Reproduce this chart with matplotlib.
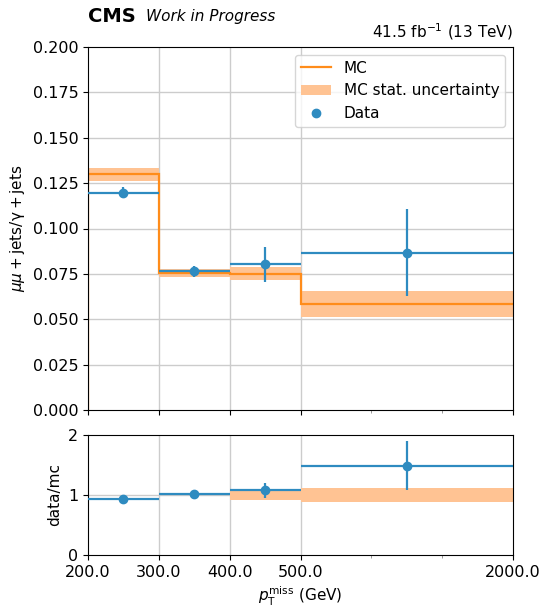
import numpy as np
import matplotlib
matplotlib.use("Agg")
import matplotlib.pyplot as plt
from matplotlib.patches import Patch
from matplotlib.lines import Line2D

# bin edges in display index units and their labels
edges = [0, 1, 2, 3, 6]
major_pos = [0, 1, 2, 3, 6]
major_labels = ["200.0", "300.0", "400.0", "500.0", "2000.0"]
minor_pos = [4, 5]

mc = [0.1298, 0.0755, 0.0752, 0.0584]
mc_err = [0.0035, 0.0020, 0.0037, 0.0071]
data = [0.1197, 0.0765, 0.0803, 0.0867]
data_err = [0.0030, 0.0030, 0.0097, 0.0240]

ratio = [0.933, 1.02, 1.077, 1.49]
ratio_err = [0.02, 0.02, 0.13, 0.41]
ratio_band = [0.004, 0.004, 0.075, 0.12]

C_MC = "#ff8c1a"
C_BAND = "#ffc393"
C_DATA = "#2e8bc0"

fig = plt.figure(figsize=(5.43, 6.07), dpi=100)
ax = fig.add_axes([88/543, 1-410/607, (513-88)/543, (410-47)/607])
axr = fig.add_axes([88/543, 1-555/607, (513-88)/543, (555-435)/607])

edges_a = np.array(edges, dtype=float)
centers = (edges_a[:-1] + edges_a[1:]) / 2
halfw = (edges_a[1:] - edges_a[:-1]) / 2
mc_a = np.array(mc); mce = np.array(mc_err)

# main panel
for y in np.arange(0.025, 0.2, 0.025):
    ax.axhline(y, color="#cccccc", lw=1, zorder=0)
for x in [1, 2, 3]:
    ax.axvline(x, color="#cccccc", lw=1, zorder=0)
ax.stairs(mc_a + mce, edges_a, baseline=mc_a - mce, fill=True, color=C_BAND, lw=0, zorder=1)
ax.stairs(mc_a, edges_a, baseline=None, color=C_MC, lw=1.6, zorder=2)
ax.vlines(edges_a[0], 0, mc_a[0], color=C_MC, lw=1.6, zorder=2)
ax.errorbar(centers, data, xerr=halfw, yerr=data_err, fmt="o", color=C_DATA,
            ms=6, lw=1.6, zorder=3)
ax.set_xlim(0, 6)
ax.set_ylim(0, 0.2)
ax.set_yticks(np.arange(0, 0.2001, 0.025))
ax.set_yticklabels([f"{v:.3f}" for v in np.arange(0, 0.2001, 0.025)])
ax.set_xticks(major_pos)
ax.set_xticks(minor_pos, minor=True)
ax.tick_params(labelbottom=False, labelsize=11.5)
ax.tick_params(axis="x", which="minor", length=2.5, color="#888888")
ax.set_ylabel(r"$\mu\mu + \rm{jets}/\gamma + \rm{jets}$", fontsize=11)

handles = [Line2D([], [], color=C_MC, lw=1.6),
           Patch(facecolor=C_BAND, edgecolor="none"),
           Line2D([], [], color=C_DATA, marker="o", ls="none", ms=6)]
ax.legend(handles, ["MC", "MC stat. uncertainty", "Data"], loc="upper right",
          fontsize=11, framealpha=0.8, edgecolor="#cccccc")

fig.text(88/543, 1-17/607, "CMS", fontsize=14, fontweight="bold", va="center", ha="left")
fig.text(146/543, 1-17/607, "Work in Progress", fontsize=11, style="italic", va="center", ha="left")
fig.text(513/543, 1-32/607, r"41.5 fb$^{-1}$ (13 TeV)", fontsize=11, va="center", ha="right")

# ratio panel
rb = np.array(ratio_band)
axr.axhline(1, color="#cccccc", lw=1, zorder=0)
for x in [1, 2, 3]:
    axr.axvline(x, color="#cccccc", lw=1, zorder=0)
axr.stairs(1 + rb, edges_a, baseline=1 - rb, fill=True, color=C_BAND, lw=0, zorder=1)
axr.errorbar(centers, ratio, xerr=halfw, yerr=ratio_err, fmt="o", color=C_DATA,
             ms=6, lw=1.6, zorder=3)
axr.set_xlim(0, 6)
axr.set_ylim(0, 2)
axr.set_yticks([0, 1, 2])
axr.set_xticks(major_pos)
axr.set_xticklabels(major_labels)
axr.set_xticks(minor_pos, minor=True)
axr.tick_params(labelsize=11.5)
axr.tick_params(axis="x", which="minor", length=2.5, color="#888888")
axr.set_ylabel("data/mc", fontsize=11)
axr.set_xlabel(r"$p_\mathrm{T}^\mathrm{miss}$ (GeV)", fontsize=11)

fig.savefig("out.png", dpi=100)
